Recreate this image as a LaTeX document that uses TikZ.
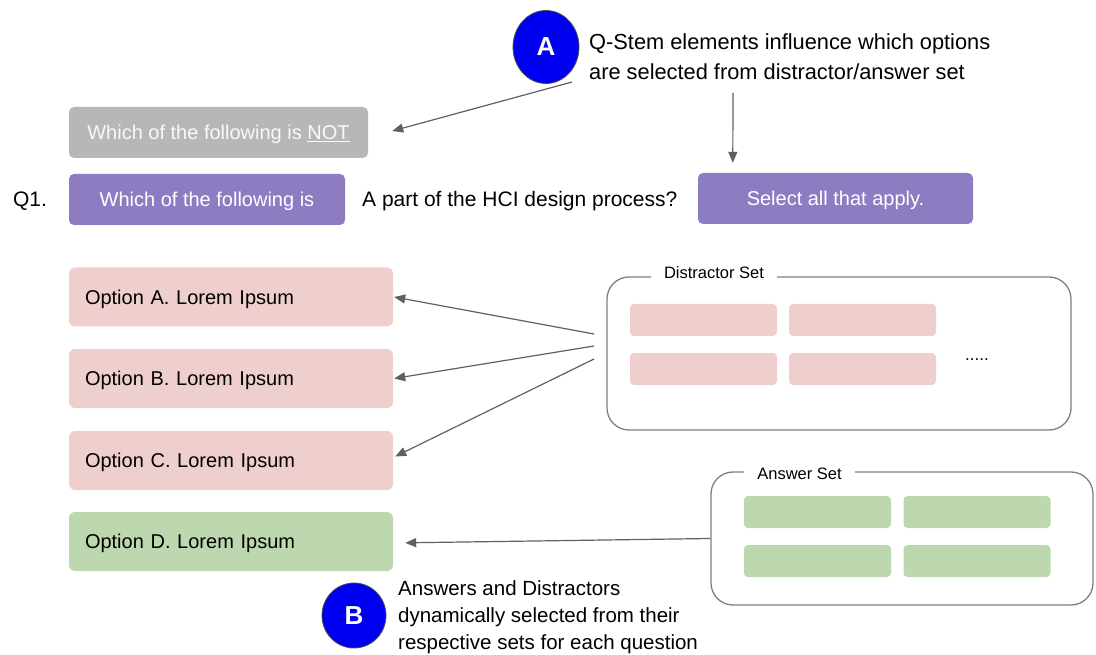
\documentclass[tikz,border=0pt]{standalone}
\usepackage{fontspec}
\setmainfont{Liberation Sans}
\usetikzlibrary{arrows.meta,shapes.geometric}

\definecolor{stemgray}{HTML}{B7B7B7}
\definecolor{stempurple}{HTML}{8E7CC3}
\definecolor{optpink}{HTML}{EFCFCD}
\definecolor{optgreen}{HTML}{BDD7AE}
\definecolor{markblue}{HTML}{0000F0}
\definecolor{linegray}{HTML}{606060}

\tikzset{
  stembox/.style={rounded corners=5pt, text=white, minimum height=51pt, inner sep=0pt, text height=14.4pt, text depth=0pt, font=\fontsize{20}{24}\selectfont},
  optbox/.style={rounded corners=6pt, text width=292pt, align=left, minimum height=59pt, inner xsep=16pt, text height=14.4pt, text depth=0pt, font=\fontsize{20}{24}\selectfont},
  chip/.style={rounded corners=4pt, minimum width=147pt, minimum height=32pt, inner sep=0pt},
  setframe/.style={draw=linegray!80, line width=1.3pt, rounded corners=22pt, inner sep=0pt},
  setlabel/.style={fill=white, inner xsep=13pt, font=\fontsize{16.5}{20}\selectfont},
  marker/.style={ellipse, fill=markblue, draw=black!70, line width=0.8pt, text=white, inner sep=0pt, font=\fontsize{26}{30}\selectfont\bfseries},
  conn/.style={draw=linegray, line width=1.2pt, -{Triangle[length=11pt,width=9pt]}},
  note/.style={align=left, anchor=west, inner sep=0pt}
}

\begin{document}
\begin{tikzpicture}[x=1pt,y=-1pt]
\useasboundingbox (0,0) rectangle (1096,655);
% question stem
\node[stembox, fill=stemgray, minimum width=299pt, text=white!95!gray] (notstem) at (218.5,132.5) {Which of the following is \underline{NOT}};
\node[font=\fontsize{21}{25}\selectfont, text height=15pt, text depth=0pt] (qnum) at (30,199) {Q1.};
\node[stembox, fill=stempurple, minimum width=276pt] (isstem) at (207,199.5) {Which of the following is};
\node[anchor=west, inner sep=0pt, text height=15pt, text depth=0pt, font=\fontsize{21}{25}\selectfont] (qbody) at (362,199) {A part of the HCI design process?};
\node[stembox, fill=stempurple, minimum width=275pt] (selall) at (835.5,198.5) {Select all that apply.};
% note A
\node[marker, minimum width=66pt, minimum height=73pt] (markA) at (546,47) {A};
\node[note, font=\fontsize{21.8}{30}\selectfont] (noteA) at (589,57) {Q-Stem elements influence which options\\are selected from distractor/answer set};
\coordinate (fromA) at (572,82);
\coordinate (fromAdown) at (733,93);
\draw[conn] (fromA) -- ([xshift=24pt,yshift=1.5pt]notstem.east);
\draw[conn] (fromAdown) -- ([xshift=35pt,yshift=10pt]selall.north west);
% options
\node[optbox, fill=optpink] (optA) at (231,297) {Option A. Lorem Ipsum};
\node[optbox, fill=optpink] (optB) at (231,378.5) {Option B. Lorem Ipsum};
\node[optbox, fill=optpink] (optC) at (231,460.5) {Option C. Lorem Ipsum};
\node[optbox, fill=optgreen] (optD) at (231,541.5) {Option D. Lorem Ipsum};
% distractor set
\node[setframe, minimum width=464pt, minimum height=153pt] (dset) at (839,353.5) {};
\node[setlabel] (dlabel) at (714,273) {Distractor Set};
\node[chip, fill=optpink] (dchip1) at (703.5,320) {};
\node[chip, fill=optpink] (dchip2) at (862.5,320) {};
\node[chip, fill=optpink] (dchip3) at (703.5,369) {};
\node[chip, fill=optpink] (dchip4) at (862.5,369) {};
\node[font=\fontsize{17}{19}\selectfont] (dmore) at (977,360) {.....};
% answer set
\node[setframe, minimum width=382pt, minimum height=133pt] (aset) at (902,538.5) {};
\node[setlabel] (alabel) at (799.5,474) {Answer Set};
\node[chip, fill=optgreen] (achip1) at (817.5,512) {};
\node[chip, fill=optgreen] (achip2) at (977,512) {};
\node[chip, fill=optgreen] (achip3) at (817.5,561) {};
\node[chip, fill=optgreen] (achip4) at (977,561) {};
% selection arrows
\coordinate (dsrc1) at (594,334);
\coordinate (dsrc2) at (594,346);
\coordinate (dsrc3) at (594,359);
\draw[conn] (dsrc1) -- ([xshift=1pt]optA.east);
\draw[conn] (dsrc2) -- ([xshift=1pt]optB.east);
\draw[conn] (dsrc3) -- ([xshift=2pt,yshift=4pt]optC.east);
\draw[conn, shorten >=12pt] (aset.west) -- ([yshift=-1.5pt]optD.east);
% note B
\node[marker, minimum width=64pt, minimum height=65pt] (markB) at (354,615.5) {B};
\node[note, font=\fontsize{20.5}{27}\selectfont] (noteB) at (398,617) {Answers and Distractors\\dynamically selected from their\\respective sets for each question};
\end{tikzpicture}
\end{document}
